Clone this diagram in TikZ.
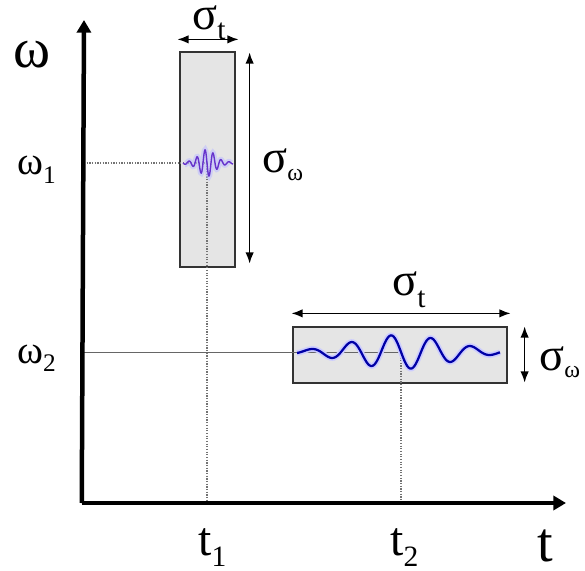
\documentclass[tikz,border=0pt]{standalone}
\usepackage{fontspec}
\setmainfont{Liberation Serif}
\usepackage{tikz}
\usetikzlibrary{
	arrows.meta,
	positioning,
	fit,
	calc
}

% main symbol with a lowered subscript
\newcommand{\sublabel}[5]{%
	{\fontsize{#1}{#1}\selectfont #2}%
	\raisebox{-#5}{\fontsize{#3}{#3}\selectfont #4}}

\begin{document}
\begin{tikzpicture}[
				x=0.025cm, y=-0.025cm,
				axis/.style={
					line width=3.2pt, black,
					-{Triangle[length=9pt, width=10pt]}
				},
				tfbox/.style={
					rectangle, draw=black!80, line width=0.9pt,
					fill=black!10, inner sep=0pt
				},
				spread/.style={
					{Latex[length=8pt, width=6pt]}-{Latex[length=8pt, width=6pt]},
					line width=1.1pt, black
				},
				guide/.style={black!55, line width=0.9pt, densely dotted},
				level/.style={black!60, line width=0.7pt},
				lbl/.style={anchor=base west, inner sep=0pt},
				wave/.style={line width=1.6pt, smooth}
				]
				
				\useasboundingbox (0,0) rectangle (585,571);
				
				% origin and wavelet centres
				\coordinate (O) at (84,503);
				\coordinate (c1) at (207,163);
				\coordinate (c2) at (401,352);
				
				% boxes
				\node[tfbox, fit={(180,52) (235,267)}] (box1) {};
				\node[tfbox, fit={(293,327) (507,383)}] (box2) {};
				
				% guide lines
				\draw[guide] (O |- c1) -- (c1);
				\draw[guide] (c1) -- (c1 |- O);
				\draw[level] (O |- c2) -- (c2);
				\draw[guide] (c2) -- (c2 |- O);
				
				% wavelet 1
				\draw[wave, blue!25, line width=4pt, opacity=0.6, domain=185:231, samples=120]
					plot ({\x},{163+(11*exp(-((\x-207)/7)^2/2)+2.5*exp(-((\x-207)/18)^2/2))*sin(45*(\x-207))});
				\draw[wave, blue!50!violet!80, line width=1pt, domain=183:233, samples=160]
					plot ({\x},{163+(11*exp(-((\x-207)/7)^2/2)+2.5*exp(-((\x-207)/18)^2/2))*sin(45*(\x-207))});
				
				% wavelet 2
				\draw[wave, blue!20, line width=4pt, domain=297:500, samples=150]
					plot ({\x},{352+17*exp(-((\x-401)/48)^2/2)*sin(9*(\x-401))});
				\draw[wave, blue!65!black, domain=297:500, samples=150]
					plot ({\x},{352+17*exp(-((\x-401)/48)^2/2)*sin(9*(\x-401))});
				
				% axes
				\draw[axis] ([xshift=-1.6pt]O) -- (84,20);
				\draw[axis] ([xshift=-1.6pt]O) -- (566,503);
				
				% spreads of box 1
				\draw[spread] ([shift={(-2,-12)}]box1.north west) -- ([shift={(3,-12)}]box1.north east);
				\draw[spread] ([shift={(14,1)}]box1.north east) -- ([shift={(14,-4)}]box1.south east);
				
				% spreads of box 2
				\draw[spread] ([shift={(-1,-13)}]box2.north west) -- ([shift={(3,-13)}]box2.north east);
				\draw[spread] ([shift={(17,0)}]box2.north east) -- ([shift={(17,-1)}]box2.south east);
				
				% labels
				\node[lbl] (omega) at (13,68) {\fontsize{40pt}{40pt}\selectfont ω};
				\node[lbl] (omega1) at (17,175) {\sublabel{28pt}{ω}{18pt}{1}{6pt}};
				\node[lbl] (omega2) at (17,363) {\sublabel{28pt}{ω}{18pt}{2}{6pt}};
				\node[lbl] (t1) at (198,555) {\sublabel{34pt}{t}{21pt}{1}{8pt}};
				\node[lbl] (t2) at (390,555) {\sublabel{34pt}{t}{21pt}{2}{8pt}};
				\node[lbl] (t) at (537,561) {\fontsize{40pt}{40pt}\selectfont t};
				\node[lbl] (st1) at (192,30) {\sublabel{33pt}{σ}{21pt}{t}{7pt}};
				\node[lbl] (sw1) at (262,173) {\sublabel{33pt}{σ}{17pt}{ω}{5pt}};
				\node[lbl] (st2) at (392,295) {\sublabel{33pt}{σ}{21pt}{t}{9pt}};
				\node[lbl] (sw2) at (539,370) {\sublabel{33pt}{σ}{17pt}{ω}{5pt}};
			\end{tikzpicture}
\end{document}
